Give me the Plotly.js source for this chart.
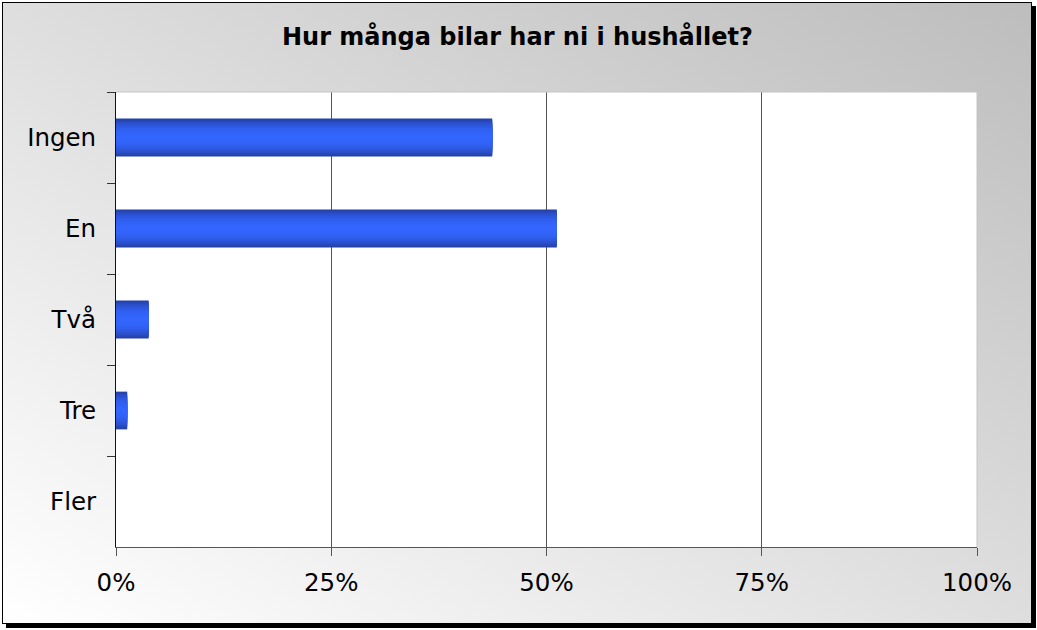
<!DOCTYPE html>
<html><head><meta charset="utf-8">
<script src="https://cdn.plot.ly/plotly-3.0.1.min.js"></script>
<style>
body{margin:0;width:1037px;height:630px;overflow:hidden;background:#fff;}
#frame{position:absolute;left:2px;top:2px;width:1028px;height:620px;border:1px solid #000;box-shadow:4px 4px 0 #000;background:linear-gradient(to top right,#ffffff,#bdbdbd);}
#chart{position:absolute;left:0;top:0;width:1037px;height:630px;}
</style></head><body>
<div id="frame"></div><div id="chart"></div>
<script>
const categories = ['Ingen', 'En', 'Två', 'Tre', 'Fler'];
const shares = [0.437, 0.512, 0.038, 0.013, 0];
const xTickVals = [0, 0.25, 0.5, 0.75, 1];
const xTickText = ['0%', '25%', '50%', '75%', '100%'];
const chartTitle = 'Hur många bilar har ni i hushållet?';

// bar gradient built from overlaid bars of decreasing width
const dark = [36, 66, 170], light = [51, 102, 255];
const N = 12, fullWidth = 0.415;
const traces = [];
for (let i = 0; i < N; i++) {
  const d = 1 - i / N;
  const t = Math.pow(d, 2.2);
  const c = light.map((v, k) => Math.round(v + (dark[k] - v) * t));
  traces.push({
    type: 'bar', orientation: 'h',
    x: shares, y: categories,
    width: fullWidth * d,
    marker: {color: 'rgb(' + c.join(',') + ')', line: {width: 0}},
    hoverinfo: 'x+y'
  });
}

const font = {family: 'DejaVu Sans, Verdana, sans-serif', size: 24.5, color: '#000'};
const layout = {
  width: 1037, height: 630,
  margin: {l: 116, r: 60, t: 92, b: 83, pad: 0},
  paper_bgcolor: 'rgba(0,0,0,0)',
  plot_bgcolor: '#ffffff',
  barmode: 'overlay',
  showlegend: false,
  font: font,
  title: {
    text: chartTitle,
    font: {family: 'DejaVu Sans, Verdana, sans-serif', size: 24, color: '#000', weight: 'bold'},
    x: 0.499, xref: 'container', xanchor: 'center',
    y: 1 - 37 / 630, yref: 'container', yanchor: 'middle'
  },
  xaxis: {
    range: [0, 1], tickvals: xTickVals, ticktext: xTickText,
    showgrid: true, gridcolor: '#555', gridwidth: 1,
    zeroline: false, showline: true, linecolor: '#555', linewidth: 1,
    ticks: 'outside', ticklen: 8, tickcolor: '#555',
    tickfont: font, ticklabelstandoff: 6, fixedrange: true
  },
  yaxis: {
    type: 'category', autorange: 'reversed',
    showgrid: false, zeroline: false,
    showline: true, linecolor: '#111', linewidth: 1,
    ticks: 'outside', tickson: 'boundaries', ticklen: 8, tickcolor: '#333',
    tickfont: font, ticklabelstandoff: 14, fixedrange: true
  },
  shapes: [
    {type: 'line', xref: 'paper', yref: 'paper', x0: 0, x1: 1, y0: 1, y1: 1, line: {color: '#c4c4c4', width: 1}, layer: 'above'},
    {type: 'line', xref: 'paper', yref: 'paper', x0: 1, x1: 1, y0: 0, y1: 1, line: {color: '#c4c4c4', width: 1}, layer: 'above'}
  ]
};
Plotly.newPlot('chart', traces, layout, {displayModeBar: false, staticPlot: true});
</script>
</body></html>
